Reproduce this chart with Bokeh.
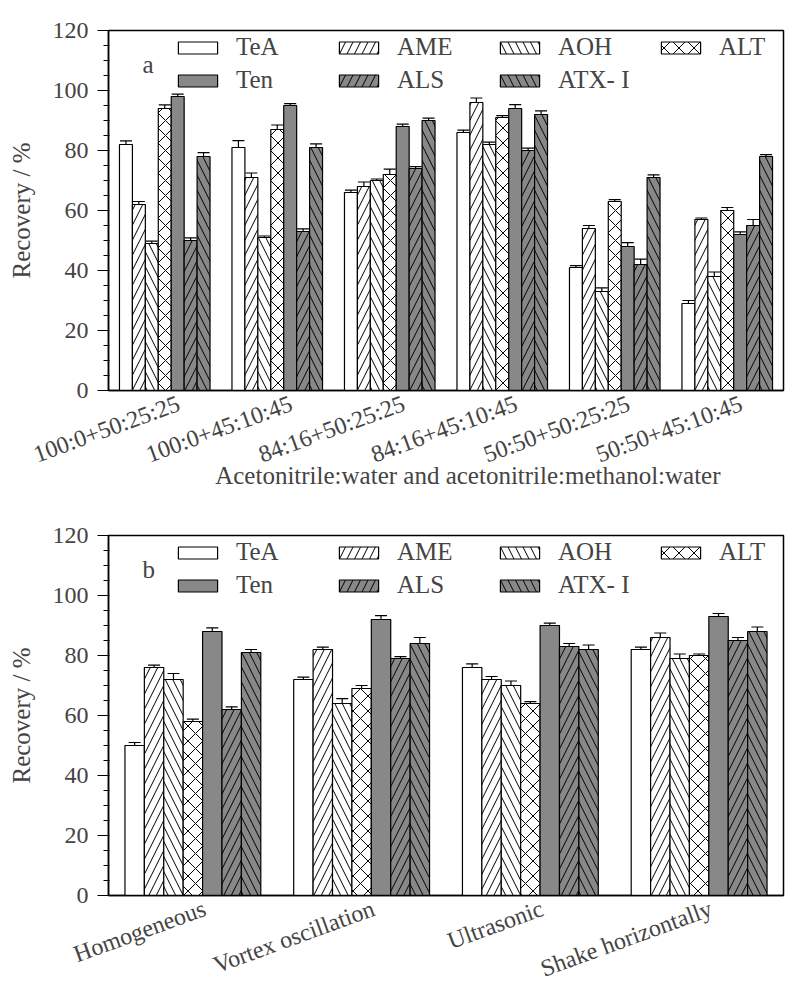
from bokeh.plotting import figure
from bokeh.models import (ColumnDataSource, Range1d, FixedTicker, SingleIntervalTicker,
                          Whisker, TeeHead, Legend, LegendItem, Label)
from bokeh.layouts import column
from bokeh.embed import file_html
from bokeh.resources import INLINE

# ---------------- data ----------------
series = ["TeA", "AME", "AOH", "ALT", "Ten", "ALS", "ATX- I"]

groups_a = ["100:0+50:25:25", "100:0+45:10:45", "84:16+50:25:25",
            "84:16+45:10:45", "50:50+50:25:25", "50:50+45:10:45"]
vals_a = {
    "TeA":    [82, 81, 66, 86, 41, 29],
    "AME":    [62, 71, 68, 96, 54, 57],
    "AOH":    [49, 51, 70, 82, 33, 38],
    "ALT":    [94, 87, 72, 91, 63, 60],
    "Ten":    [98, 95, 88, 94, 48, 52],
    "ALS":    [50, 53, 74, 80, 42, 55],
    "ATX- I": [78, 81, 90, 92, 71, 78],
}
err_a = {
    "TeA":    [1.2, 2.3, 0.8, 0.8, 0.6, 1.0],
    "AME":    [1.0, 1.5, 1.5, 1.5, 1.0, 0.5],
    "AOH":    [0.8, 0.5, 0.5, 0.8, 1.2, 1.5],
    "ALT":    [1.2, 1.5, 1.8, 0.6, 0.6, 1.0],
    "Ten":    [0.8, 0.6, 0.8, 1.3, 1.3, 0.9],
    "ALS":    [0.9, 0.9, 0.6, 0.8, 1.8, 2.0],
    "ATX- I": [1.3, 1.2, 0.8, 1.2, 0.9, 0.6],
}

groups_b = ["Homogeneous", "Vortex oscillation", "Ultrasonic", "Shake horizontally"]
vals_b = {
    "TeA":    [50, 72, 76, 82],
    "AME":    [76, 82, 72, 86],
    "AOH":    [72, 64, 70, 79],
    "ALT":    [58, 69, 64, 80],
    "Ten":    [88, 92, 90, 93],
    "ALS":    [62, 79, 83, 85],
    "ATX- I": [81, 84, 82, 88],
}
err_b = {
    "TeA":    [1.0, 0.8, 1.2, 0.8],
    "AME":    [0.8, 0.8, 1.0, 1.5],
    "AOH":    [2.0, 1.6, 1.5, 1.5],
    "ALT":    [0.8, 1.0, 0.6, 0.5],
    "Ten":    [1.2, 1.3, 0.8, 1.0],
    "ALS":    [0.9, 0.6, 1.0, 1.0],
    "ATX- I": [1.0, 2.0, 1.5, 1.5],
}

x_title_a = "Acetonitrile:water and acetonitrile:methanol:water"
y_title = "Recovery / %"

# ---------------- styles ----------------
GRAY = "#888888"
fills = {"TeA": "white", "AME": "white", "AOH": "white", "ALT": "white",
         "Ten": GRAY, "ALS": GRAY, "ATX- I": GRAY}
hatches = {"TeA": " ", "AME": "/", "AOH": "\\", "ALT": "x",
           "Ten": " ", "ALS": "/", "ATX- I": "\\"}
FONT = "Liberation Serif"
BW = 0.115


def make_panel(groups, vals, errs, letter, x_title, border_top, border_bottom,
               label_shift_px):
    n = len(groups)
    group_px = 675.0 / n
    p = figure(frame_width=675, frame_height=360, output_backend="svg",
               toolbar_location=None, x_range=Range1d(0, n), y_range=Range1d(0, 120),
               min_border_left=108, min_border_right=9,
               min_border_top=border_top, min_border_bottom=border_bottom)
    p.xgrid.visible = False
    p.ygrid.visible = False
    p.outline_line_color = "black"
    p.outline_line_width = 1.5
    p.background_fill_color = "white"
    p.border_fill_color = "white"

    items = []
    for i, s in enumerate(series):
        xs = [g + 0.5 + (i - 3) * BW for g in range(n)]
        up = [v + e for v, e in zip(vals[s], errs[s])]
        lo = [v - e for v, e in zip(vals[s], errs[s])]
        src = ColumnDataSource(dict(x=xs, top=vals[s], upper=up, lower=lo))
        r = p.vbar(x="x", top="top", width=BW, source=src, fill_color=fills[s],
                   line_color="black", line_width=1.2,
                   hatch_pattern=hatches[s], hatch_color="black",
                   hatch_weight=1, hatch_scale=15)
        w = Whisker(source=src, base="x", upper="upper", lower="lower",
                    line_color="black", line_width=1.2,
                    upper_head=TeeHead(size=12, line_color="black", line_width=1.2),
                    lower_head=TeeHead(size=12, line_color="black", line_width=1.2))
        p.add_layout(w)
        items.append(LegendItem(label=s, renderers=[r]))

    legend = Legend(items=items, ncols=4, orientation="horizontal",
                    location=(65, 296), glyph_width=49, glyph_height=15,
                    label_text_font=FONT, label_text_font_size="25px",
                    label_standoff=14, label_width=93, label_height=20,
                    spacing=5, padding=0, margin=0,
                    border_line_alpha=0, background_fill_alpha=0)
    p.add_layout(legend, "center")

    p.add_layout(Label(x=34.0 / group_px, y=108.8, text=letter, text_font=FONT,
                       text_font_size="25px", text_baseline="middle",
                       text_align="left"))

    # y axis
    ya = p.yaxis[0]
    ya.ticker = SingleIntervalTicker(interval=20, num_minor_ticks=4)
    ya.axis_label = y_title
    ya.axis_label_text_font = FONT
    ya.axis_label_text_font_size = "25px"
    ya.axis_label_text_font_style = "normal"
    ya.axis_label_standoff = 15
    ya.major_label_text_font = FONT
    ya.major_label_text_font_size = "24px"
    ya.major_label_standoff = 9
    ya.major_tick_out = 11
    ya.major_tick_in = 0
    ya.minor_tick_out = 5
    ya.minor_tick_in = 1
    ya.axis_line_width = 1.5
    ya.major_tick_line_width = 1.2
    ya.minor_tick_line_width = 1.2

    # x axis (labels anchored slightly right of group centre, like the original)
    xa = p.xaxis[0]
    ticks = [g + 0.5 + label_shift_px / group_px for g in range(n)]
    xa.ticker = FixedTicker(ticks=ticks)
    xa.major_label_overrides = {t: lab for t, lab in zip(ticks, groups)}
    xa.major_label_orientation = 0.35
    xa.major_label_text_font = FONT
    xa.major_label_text_font_size = "24px"
    xa.major_label_standoff = 12
    xa.major_tick_out = 0
    xa.major_tick_in = 0
    xa.minor_tick_out = 0
    xa.axis_line_width = 1.5
    if x_title:
        # leading no-break spaces shift the centred title right, as in the original
        xa.axis_label = "\u00a0" * 7 + x_title
        xa.axis_label_text_font = FONT
        xa.axis_label_text_font_size = "25px"
        xa.axis_label_text_font_style = "normal"
        xa.axis_label_standoff = -21
    return p


p1 = make_panel(groups_a, vals_a, err_a, "a", x_title_a, 30, 118, 14)
p2 = make_panel(groups_b, vals_b, err_b, "b", None, 27, 84, 12)
layout = column(p1, p2, spacing=0)

open("out.html", "w").write(file_html(layout, INLINE))
